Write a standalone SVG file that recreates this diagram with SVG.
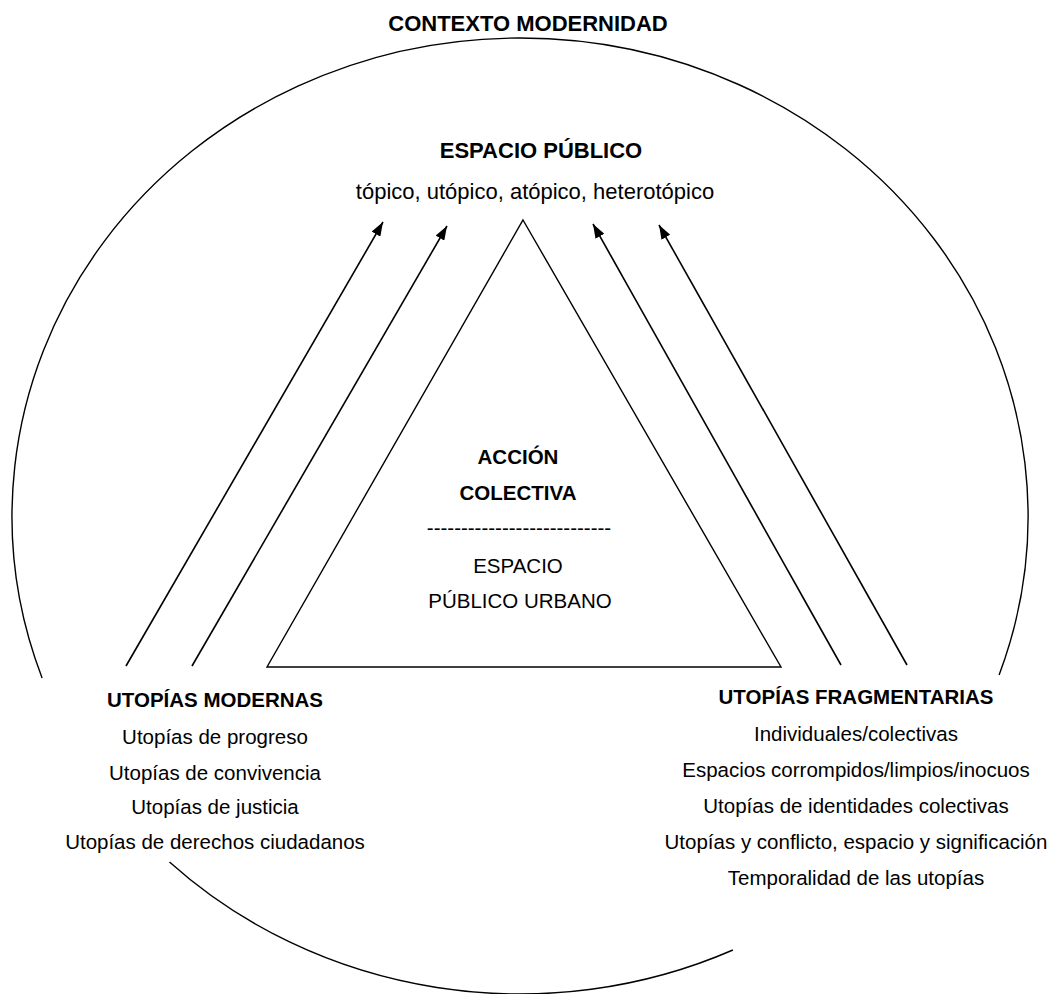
<svg xmlns="http://www.w3.org/2000/svg" width="1055" height="994" viewBox="0 0 1055 994">
<style>
text{font-family:"Liberation Sans",Arial,sans-serif;fill:#000;text-anchor:middle}
.b{font-weight:bold}
.t{font-size:20.5px}
.h{font-size:22px}
.ln{fill:none;stroke:#000;stroke-width:1.4}
.ar{fill:none;stroke:#000;stroke-width:1.6}
</style>
<defs>
<marker id="ah" markerUnits="userSpaceOnUse" markerWidth="14" markerHeight="10" refX="14" refY="5" orient="auto">
<path d="M0,0 L14,5 L0,10 z" fill="#000"/>
</marker>
</defs>
<g id="context">
<path class="ln" d="M 999.1 675 A 508 478 0 1 0 42.1 678"/>
<path class="ln" d="M 169.5 862 A 508 478 0 0 0 732.9 950"/>
<text class="b h" x="528" y="31">CONTEXTO MODERNIDAD</text>
</g>
<g id="espacio-publico">
<text class="b h" x="541" y="158">ESPACIO PÚBLICO</text>
<text class="h" x="535" y="199">tópico, utópico, atópico, heterotópico</text>
</g>
<g id="accion-colectiva">
<path class="ln" d="M523 220 L781 667 L267 667 Z" stroke-width="1.6"/>
<text class="b t" x="518" y="464">ACCIÓN</text>
<text class="b t" x="518" y="500">COLECTIVA</text>
<text class="t" x="519" y="535">---------------------------</text>
<text class="t" x="518" y="573">ESPACIO</text>
<text class="t" x="520" y="608">PÚBLICO URBANO</text>
</g>
<g id="utopias-modernas">
<text class="b t" x="215" y="707">UTOPÍAS MODERNAS</text>
<text class="t" x="215" y="744">Utopías de progreso</text>
<text class="t" x="215" y="780">Utopías de convivencia</text>
<text class="t" x="215" y="814">Utopías de justicia</text>
<text class="t" x="215" y="849">Utopías de derechos ciudadanos</text>
</g>
<g id="utopias-fragmentarias">
<text class="b t" x="856" y="704">UTOPÍAS FRAGMENTARIAS</text>
<text class="t" x="856" y="741">Individuales/colectivas</text>
<text class="t" x="856" y="777">Espacios corrompidos/limpios/inocuos</text>
<text class="t" x="856" y="813">Utopías de identidades colectivas</text>
<text class="t" x="856" y="849">Utopías y conflicto, espacio y significación</text>
<text class="t" x="856" y="885">Temporalidad de las utopías</text>
</g>
<g id="connectors">
<line class="ar" x1="126" y1="666" x2="383" y2="222" marker-end="url(#ah)"/>
<line class="ar" x1="192" y1="666" x2="447" y2="226" marker-end="url(#ah)"/>
<line class="ar" x1="841" y1="665" x2="593" y2="224" marker-end="url(#ah)"/>
<line class="ar" x1="907" y1="665" x2="659" y2="225" marker-end="url(#ah)"/>
</g>
</svg>
